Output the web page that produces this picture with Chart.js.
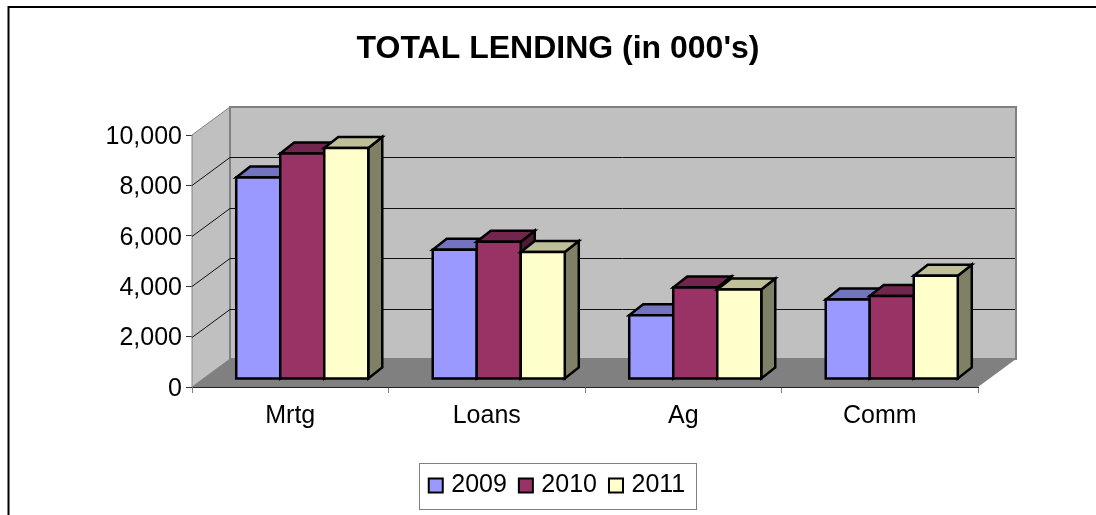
<!DOCTYPE html>
<html>
<head>
<meta charset="utf-8">
<title>TOTAL LENDING</title>
<script src="https://cdn.jsdelivr.net/npm/chart.js@4"></script>
<style>
body { margin: 0; background: #fff; }
canvas { display: block; }
</style>
</head>
<body>
<canvas id="grafica" width="1096" height="515"></canvas>
<script>
// values
var categories = ['Mrtg', 'Loans', 'Ag', 'Comm'];
var seriesNames = ['2009', '2010', '2011'];
var values2009 = [8000, 5130, 2530, 3150];
var values2010 = [8950, 5450, 3630, 3290];
var values2011 = [9170, 5040, 3550, 4100];

var frontColors = ['#9999FF', '#993366', '#FFFFCC'];
var topColors = ['#7373BF', '#73264D', '#BFBF99'];
var sideColors = ['#4D4D80', '#4D1A33', '#808066'];

// depth of the box behind the axes and of the bars
var wallX = 38, wallY = 28;
var barShiftX = 12, barShiftY = 8;
var barDepthX = 14, barDepthY = 11;

function poly(ctx, pts, fill, stroke, lw) {
    ctx.beginPath();
    ctx.moveTo(pts[0][0], pts[0][1]);
    for (var i = 1; i < pts.length; i++) ctx.lineTo(pts[i][0], pts[i][1]);
    ctx.closePath();
    if (fill) { ctx.fillStyle = fill; ctx.fill(); }
    if (stroke) { ctx.strokeStyle = stroke; ctx.lineWidth = lw; ctx.stroke(); }
}

// outer frame, only top and left are in the picture
var framePlugin = {
    id: 'frame',
    beforeDraw: function(chart) {
        var ctx = chart.ctx;
        ctx.save();
        ctx.strokeStyle = '#000';
        ctx.lineWidth = 2;
        ctx.beginPath();
        ctx.moveTo(8.5, 515);
        ctx.lineTo(8.5, 7);
        ctx.lineTo(1096, 7);
        ctx.stroke();
        ctx.restore();
    }
};

// title and legend are centered on the frame, not on the plot
var shiftPlugin = {
    id: 'shift',
    afterLayout: function(chart) {
        chart.titleBlock.left += 69;
        chart.titleBlock.right += 69;
        chart.legend.left += 68;
        chart.legend.right += 68;
    }
};

function drawWalls(chart) {
    var ctx = chart.ctx, a = chart.chartArea, y = chart.scales.y;
    ctx.save();
    poly(ctx, [[a.left, a.top], [a.left + wallX, a.top - wallY], [a.left + wallX, a.bottom - wallY], [a.left, a.bottom]], '#C0C0C0', '#808080', 1);
    poly(ctx, [[a.left + wallX, a.top - wallY], [a.right + wallX, a.top - wallY], [a.right + wallX, a.bottom - wallY], [a.left + wallX, a.bottom - wallY]], '#C0C0C0', '#808080', 2);
    poly(ctx, [[a.left, a.bottom], [a.left + wallX, a.bottom - wallY], [a.right + wallX, a.bottom - wallY], [a.right, a.bottom]], '#808080');
    ctx.strokeStyle = '#111';
    ctx.lineWidth = 1;
    y.ticks.forEach(function(t) {
        if (t.value == 0 || t.value == y.max) return;
        var py = Math.round(y.getPixelForValue(t.value)) + 0.5;
        ctx.beginPath();
        ctx.moveTo(a.left, py);
        ctx.lineTo(a.left + wallX, py - wallY);
        ctx.lineTo(a.right + wallX - 1, py - wallY);
        ctx.stroke();
    });
    ctx.restore();
}

// series have to go from first to last so each one covers the top of the one before,
// the library would paint them the other way round
function drawBars(chart) {
    var ctx = chart.ctx;
    ctx.save();
    ctx.translate(barShiftX, -barShiftY);
    ctx.lineJoin = 'miter';
    seriesNames.forEach(function(name, i) {
        var meta = chart.getDatasetMeta(i);
        meta.data.forEach(function(bar) {
            var l = bar.x - bar.width / 2, r = bar.x + bar.width / 2;
            poly(ctx, [[r, bar.y], [r + barDepthX, bar.y - barDepthY], [r + barDepthX, bar.base - barDepthY], [r, bar.base]], sideColors[i], '#000', 2.5);
            poly(ctx, [[l, bar.y], [l + barDepthX, bar.y - barDepthY], [r + barDepthX, bar.y - barDepthY], [r, bar.y]], topColors[i], '#000', 2.5);
        });
        meta.controller.draw();
        meta.data.forEach(function(bar) {
            var l = bar.x - bar.width / 2, r = bar.x + bar.width / 2;
            poly(ctx, [[l, bar.y], [r, bar.y], [r, bar.base], [l, bar.base]], null, '#000', 2.5);
        });
    });
    ctx.restore();
}

var scenePlugin = {
    id: 'scene',
    beforeDatasetsDraw: function(chart) {
        drawWalls(chart);
        drawBars(chart);
        return false;
    }
};

// box around the legend and its square markers
var legendBoxPlugin = {
    id: 'legendBox',
    afterDraw: function(chart) {
        var ctx = chart.ctx, boxes = chart.legend.legendHitBoxes;
        var first = boxes[0], last = boxes[boxes.length - 1];
        var midY = first.top + first.height / 2;
        ctx.save();
        ctx.strokeStyle = '#808080';
        ctx.lineWidth = 1;
        ctx.strokeRect(Math.round(first.left - 10) + 0.5, Math.round(midY - 23) + 0.5, Math.round(last.left + last.width - first.left + 21), 46);
        ctx.strokeStyle = '#000';
        ctx.lineWidth = 2;
        boxes.forEach(function(b, i) {
            ctx.fillStyle = frontColors[i];
            ctx.fillRect(b.left, midY - 7, 14, 14);
            ctx.strokeRect(b.left, midY - 7, 14, 14);
        });
        ctx.restore();
    }
};

var c = document.getElementById('grafica');
var chart = new Chart(c, {
    type: 'bar',
    data: {
        labels: categories,
        datasets: [
            { label: seriesNames[0], data: values2009, backgroundColor: frontColors[0] },
            { label: seriesNames[1], data: values2010, backgroundColor: frontColors[1] },
            { label: seriesNames[2], data: values2011, backgroundColor: frontColors[2] }
        ]
    },
    plugins: [framePlugin, shiftPlugin, scenePlugin, legendBoxPlugin],
    options: {
        responsive: false,
        animation: false,
        layout: { padding: { top: 0, left: 0, right: 118, bottom: 7 } },
        datasets: { bar: { barPercentage: 1, categoryPercentage: 0.672, borderWidth: 0 } },
        font: { family: '"Liberation Sans", Arial, sans-serif' },
        plugins: {
            tooltip: { enabled: false },
            title: {
                display: true,
                text: "TOTAL LENDING (in 000's)",
                color: '#000',
                font: { size: 32, weight: 'bold', lineHeight: 1.2 },
                padding: { top: 29.5, bottom: 67.1 }
            },
            legend: {
                position: 'bottom',
                labels: {
                    boxWidth: 10,
                    boxHeight: 14,
                    padding: 12,
                    color: '#000',
                    font: { size: 25 },
                    generateLabels: function(ch) {
                        return Chart.defaults.plugins.legend.labels.generateLabels(ch).map(function(it) {
                            it.fillStyle = 'transparent';
                            it.strokeStyle = 'transparent';
                            it.lineWidth = 0;
                            return it;
                        });
                    }
                }
            }
        },
        scales: {
            x: {
                afterFit: function(s) { s.height = 74; },
                grid: { drawOnChartArea: false, drawTicks: true, tickLength: 6, color: '#808080' },
                border: { display: true, color: '#222', width: 1 },
                ticks: { color: '#000', padding: 8, font: { size: 25 }, maxRotation: 0 }
            },
            y: {
                min: 0,
                max: 10000,
                afterFit: function(s) { s.width = 192; },
                grid: { drawOnChartArea: false, drawTicks: true, tickLength: 6, color: '#333' },
                border: { display: true, color: '#808080', width: 1 },
                ticks: {
                    stepSize: 2000,
                    color: '#000',
                    padding: 4,
                    labelOffset: 2,
                    font: { size: 25 },
                    callback: function(v) { return v.toLocaleString('en-US'); }
                }
            }
        }
    }
});
</script>
</body>
</html>
